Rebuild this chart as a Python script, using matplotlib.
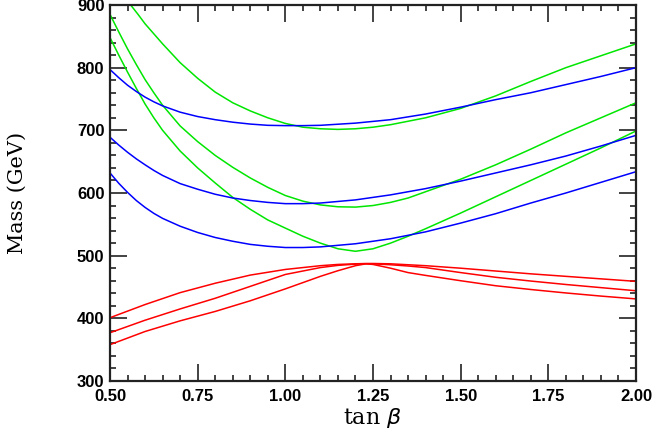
import matplotlib
matplotlib.use("Agg")
import matplotlib.pyplot as plt
from matplotlib.ticker import MultipleLocator

# tan(beta) grids and masses (GeV)
x_blue = [0.5, 0.525, 0.55, 0.575, 0.6, 0.625, 0.65, 0.7, 0.75, 0.8, 0.85, 0.9,
          0.95, 1.0, 1.05, 1.1, 1.2, 1.3, 1.4, 1.5, 1.6, 1.7, 1.8, 1.9, 2.0]
blue_1 = [797, 784, 772, 762, 753, 745.5, 739, 729, 722, 717, 713, 710,
          708, 707.5, 707.5, 708, 711.5, 717, 726, 737, 749, 760, 773, 786, 800]
blue_2 = [689, 676.5, 665, 654.5, 645, 636, 628, 615, 606, 598, 592, 588,
          585, 583, 583, 584, 589, 597, 607, 619, 632, 645, 659, 675, 692]
blue_3 = [632, 615.5, 601, 588, 577, 567.5, 559.5, 547, 537, 529, 523, 518,
          515, 513, 513, 514, 519, 527, 538, 552, 567, 584, 600, 617, 634]

x_green_1 = [0.559, 0.58, 0.6, 0.625, 0.65, 0.7, 0.75, 0.8, 0.85, 0.9, 0.95, 1.0,
             1.05, 1.1, 1.15, 1.2, 1.25, 1.3, 1.4, 1.5, 1.6, 1.7, 1.8, 1.9, 2.0]
green_1 = [900, 885, 870, 854, 838, 808, 783, 761, 744, 731, 720, 711,
           705, 702.5, 701.5, 702.5, 705, 709, 720, 735, 755, 778, 800, 819, 838]
x_green = [0.5, 0.525, 0.55, 0.575, 0.6, 0.625, 0.65, 0.7, 0.75, 0.8, 0.85, 0.9,
           0.95, 1.0, 1.05, 1.1, 1.15, 1.2, 1.25, 1.3, 1.35, 1.4, 1.5, 1.6, 1.7,
           1.8, 1.9, 2.0]
green_2 = [885, 857, 830, 805, 781, 760, 740, 707, 682, 660, 641, 624,
           609, 596, 587, 581, 578, 577.5, 580, 585, 592, 602, 622, 645, 670,
           696, 720, 744]
green_3 = [848, 820, 793, 767, 742, 720, 700, 667, 640, 616, 593, 574,
           557, 544, 531, 520, 511, 507, 511, 520, 531, 543, 568, 594, 620,
           646, 672, 699]

x_red = [0.5, 0.6, 0.7, 0.8, 0.9, 1.0, 1.1, 1.15, 1.2, 1.23, 1.25, 1.3, 1.35,
         1.4, 1.5, 1.6, 1.7, 1.8, 1.9, 2.0]
red_1 = [401, 422, 441, 456, 469, 478, 484, 486, 487, 487.5, 487.5, 487, 485.5,
         484, 480, 475.5, 471, 467, 463, 459]
red_2 = [377, 397, 415, 432, 451, 470, 481, 484.5, 486.5, 487, 487, 485.5, 483.5,
         481, 473, 465.5, 459.5, 454, 449, 444]
red_3 = [358, 379, 396, 411, 428, 447, 467, 476, 484, 487, 486, 480, 473,
         468.5, 460, 452, 446, 440.5, 435.5, 431]

fig = plt.figure(figsize=(6.53, 4.36), dpi=100)
ax = fig.add_axes([110 / 653, 55 / 436, 526 / 653, 376 / 436])

lw = 1.1
ax.plot(x_green_1, green_1, color="#00e600", lw=lw)
for y in (green_2, green_3):
    ax.plot(x_green, y, color="#00e600", lw=lw)
for y in (blue_1, blue_2, blue_3):
    ax.plot(x_blue, y, color="#0000ff", lw=lw)
for y in (red_1, red_2, red_3):
    ax.plot(x_red, y, color="#ff0000", lw=lw)

ax.set_xlim(0.5, 2.0)
ax.set_ylim(300, 900)
ax.xaxis.set_major_locator(MultipleLocator(0.25))
ax.xaxis.set_minor_locator(MultipleLocator(0.05))
ax.yaxis.set_major_locator(MultipleLocator(100))
ax.yaxis.set_minor_locator(MultipleLocator(20))
ax.xaxis.set_major_formatter(plt.FuncFormatter(lambda v, p: f"{v:.2f}"))

ax.tick_params(which="both", direction="in", top=True, right=True, width=1.2,
               color="#222222")
ax.tick_params(which="major", length=12)
ax.tick_params(which="minor", length=4.5)
ax.tick_params(axis="x", pad=6)
ax.tick_params(axis="y", pad=4)
for lab in ax.get_xticklabels() + ax.get_yticklabels():
    lab.set_fontfamily("Liberation Sans")
    lab.set_fontweight("bold")
    lab.set_fontsize(12)
for s in ax.spines.values():
    s.set_linewidth(1.6)
    s.set_color("#222222")

ax.set_xlabel(r"tan $\beta$", fontfamily="DejaVu Serif", fontsize=16, labelpad=1)
ax.set_ylabel("Mass (GeV)", fontfamily="DejaVu Serif", fontsize=15, labelpad=36)

fig.savefig("out.png", dpi=100)
